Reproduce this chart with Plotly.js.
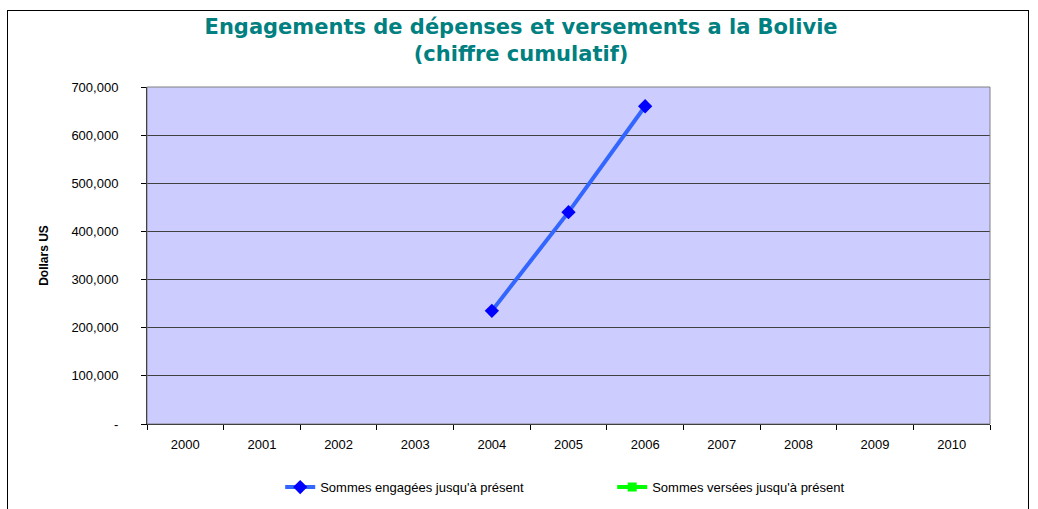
<!DOCTYPE html>
<html>
<head>
<meta charset="utf-8">
<script src="https://cdn.plot.ly/plotly-3.0.1.min.js"></script>
<style>
html,body{margin:0;padding:0;background:#fff;}
#wrap{position:relative;width:1038px;height:509px;}
#chart{width:1038px;height:509px;}
#frame{position:absolute;left:7px;top:10px;width:1020px;height:520px;border:1px solid #000;pointer-events:none;}
</style>
</head>
<body>
<div id="wrap"><div id="chart"></div><div id="frame"></div></div>
<script>
const years = ['2000','2001','2002','2003','2004','2005','2006','2007','2008','2009','2010'];
const engagees = [null,null,null,null,235000,440000,660000,null,null,null,null];
const versees = [null,null,null,null,null,null,null,null,null,null,null];
const yTickVals = [0,100000,200000,300000,400000,500000,600000,700000];
const yTickText = ['-','100,000','200,000','300,000','400,000','500,000','600,000','700,000'];

const traces = [
  {x: years, y: engagees, name: 'Sommes engagées jusqu\'à présent', type: 'scatter', mode: 'lines+markers',
   line: {color: '#3366FF', width: 4}, marker: {symbol: 'diamond', size: 11, color: '#0000FF'}},
  {x: years, y: versees, name: 'Sommes versées jusqu\'à présent', type: 'scatter', mode: 'lines+markers',
   line: {color: '#00FF00', width: 4}, marker: {symbol: 'square', size: 9, color: '#00FF00'}}
];

const layout = {
  width: 1038, height: 509,
  margin: {l: 147, r: 48, t: 87, b: 85, autoexpand: false},
  paper_bgcolor: '#ffffff',
  plot_bgcolor: '#CCCCFF',
  font: {family: 'Liberation Sans, Arial, sans-serif', size: 13, color: '#000'},
  title: {text: 'Engagements de dépenses et versements a la Bolivie<br>(chiffre cumulatif)',
          font: {family: 'DejaVu Sans, Verdana, sans-serif', size: 21, color: '#008080', weight: 'bold'},
          x: 0.502, xanchor: 'center', y: 0.934, yanchor: 'top'},
  xaxis: {type: 'category', range: [-0.5, 10.5], showgrid: false, zeroline: false,
          showline: true, linecolor: '#000', linewidth: 1, mirror: false,
          ticks: 'outside', tickson: 'boundaries', ticklen: 5, tickcolor: '#000',
          ticklabelstandoff: 8, tickfont: {size: 13}, fixedrange: true},
  yaxis: {range: [0, 700000], tickvals: yTickVals, ticktext: yTickText,
          showgrid: true, gridcolor: '#404040', gridwidth: 1, zeroline: false,
          showline: true, linecolor: '#000', linewidth: 1,
          ticks: 'outside', ticklen: 5, tickcolor: '#000', tickfont: {size: 13},
          ticklabelstandoff: 20,
          title: {text: '<b>Dollars US</b>', font: {size: 12}, standoff: 20}},
  shapes: [
    {type: 'rect', xref: 'paper', yref: 'paper', x0: 0, x1: 1, y0: 0, y1: 1,
     line: {color: '#808080', width: 1}, fillcolor: 'rgba(0,0,0,0)', layer: 'above'}
  ],
  showlegend: true,
  legend: {orientation: 'h', x: 0.158, xanchor: 'left', yref: 'container', y: 0.043, yanchor: 'middle',
           entrywidth: 287, entrywidthmode: 'pixels', font: {size: 13}, bgcolor: 'rgba(0,0,0,0)'}
};
Plotly.newPlot('chart', traces, layout, {displayModeBar: false, staticPlot: true});
</script>
</body>
</html>
